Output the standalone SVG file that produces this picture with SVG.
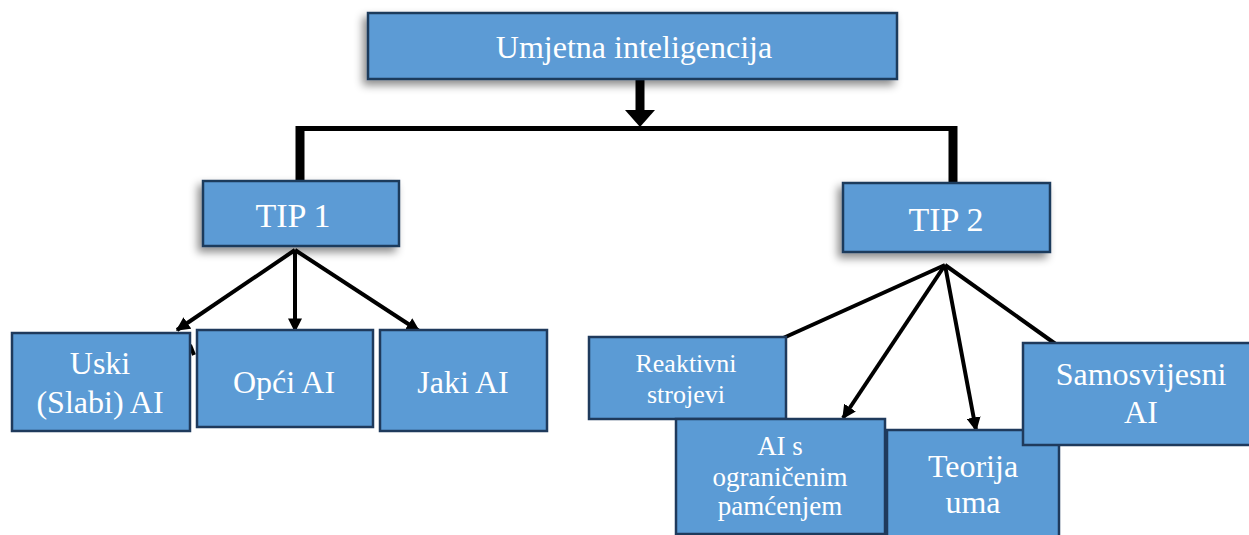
<svg xmlns="http://www.w3.org/2000/svg" width="1249" height="535" viewBox="0 0 1249 535">
<style>
.box{fill:#5B9BD5;stroke:#1F3A5C;stroke-width:2.5}
.t{fill:#fff;font-family:"Liberation Serif","Times New Roman",serif;text-anchor:middle}
.c{stroke:#000;fill:none;stroke-width:4}
</style>
<defs>
<filter id="sh" x="-20%" y="-30%" width="140%" height="170%">
<feDropShadow dx="-4" dy="5" stdDeviation="4" flood-color="#000" flood-opacity="0.45"/>
</filter>
<marker id="ah" viewBox="0 0 10 10" refX="9" refY="5" markerWidth="3.5" markerHeight="3.5" orient="auto" markerUnits="strokeWidth">
<path d="M0,0 L10,5 L0,10 z" fill="#000"/>
</marker>
</defs>
<rect width="1249" height="535" fill="#fff"/>
<g id="connectors">
<line x1="640" y1="80" x2="640" y2="112" stroke="#000" stroke-width="9"/>
<polygon points="625,110 655,110 640,127" fill="#000"/>
<line x1="296" y1="128.5" x2="957" y2="128.5" stroke="#000" stroke-width="5"/>
<line x1="300" y1="126" x2="300" y2="182" stroke="#000" stroke-width="9"/>
<line x1="953" y1="126" x2="953" y2="184" stroke="#000" stroke-width="9"/>
<line class="c" x1="295" y1="250" x2="177" y2="330" marker-end="url(#ah)"/>
<line class="c" x1="295" y1="250" x2="295" y2="331" marker-end="url(#ah)"/>
<line class="c" x1="295" y1="250" x2="419" y2="331" marker-end="url(#ah)"/>
<line class="c" x1="190" y1="345" x2="194" y2="355"/>
<line class="c" x1="945" y1="265" x2="781" y2="339"/>
<line class="c" x1="945" y1="265" x2="843" y2="418" marker-end="url(#ah)"/>
<line class="c" x1="945" y1="265" x2="976" y2="430" marker-end="url(#ah)"/>
<line class="c" x1="945" y1="265" x2="1057" y2="345"/>
</g>
<g id="n-root">
<rect class="box" x="368" y="13" width="529" height="66" filter="url(#sh)"/>
<text class="t" x="634" y="58" font-size="32">Umjetna inteligencija</text>
</g>
<g id="n-tip1">
<rect class="box" x="203" y="181" width="196" height="65" filter="url(#sh)"/>
<text class="t" x="293" y="227" font-size="34">TIP 1</text>
</g>
<g id="n-tip2">
<rect class="box" x="843" y="183" width="207" height="69" filter="url(#sh)"/>
<text class="t" x="946" y="231" font-size="34">TIP 2</text>
</g>
<g id="n-uski">
<rect class="box" x="12" y="333" width="178" height="98"/>
<text class="t" x="100" y="374" font-size="32">Uski</text>
<text class="t" x="100" y="413" font-size="32">(Slabi) AI</text>
</g>
<g id="n-opci">
<rect class="box" x="197" y="330" width="176" height="97"/>
<text class="t" x="284" y="393" font-size="32">Opći AI</text>
</g>
<g id="n-jaki">
<rect class="box" x="380" y="330" width="167" height="101"/>
<text class="t" x="463" y="393" font-size="32">Jaki AI</text>
</g>
<g id="n-reaktivni">
<rect class="box" x="589" y="337" width="197" height="82"/>
<text class="t" x="686" y="372" font-size="26">Reaktivni</text>
<text class="t" x="686" y="403" font-size="26">strojevi</text>
</g>
<g id="n-ogr">
<rect class="box" x="676" y="419" width="209" height="115"/>
<text class="t" x="780" y="455" font-size="27">AI s</text>
<text class="t" x="780" y="486" font-size="27">ograničenim</text>
<text class="t" x="780" y="515" font-size="27">pamćenjem</text>
</g>
<g id="n-teorija">
<rect class="box" x="887" y="430" width="172" height="107"/>
<text class="t" x="973" y="477" font-size="32">Teorija</text>
<text class="t" x="973" y="513" font-size="32">uma</text>
</g>
<g id="n-samo">
<rect class="box" x="1023" y="343" width="228" height="102"/>
<text class="t" x="1141" y="385" font-size="32">Samosvijesni</text>
<text class="t" x="1141" y="423" font-size="32">AI</text>
</g>
</svg>
